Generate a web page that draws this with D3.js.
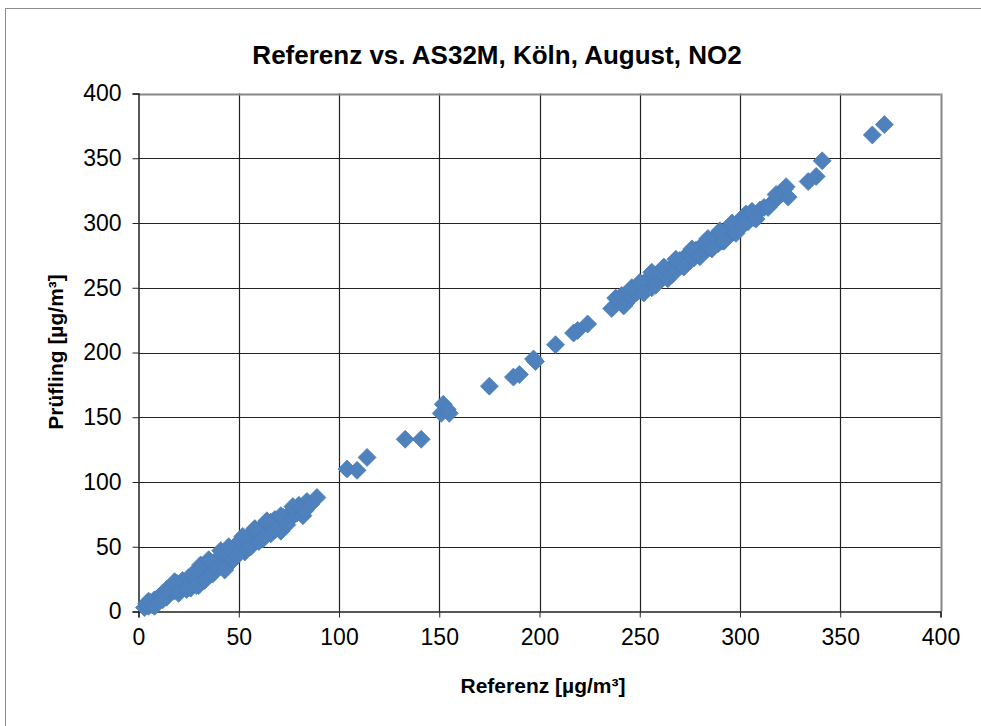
<!DOCTYPE html>
<html>
<head>
<meta charset="utf-8">
<script src="https://cdn.jsdelivr.net/npm/d3@7"></script>
<style>
  body { margin: 0; background: #fff; }
  svg { display: block; font-family: Arial, "Liberation Sans", sans-serif; }
</style>
</head>
<body>
<svg width="981" height="726"></svg>
<script>
// Referenz (x) und Prüfling (y)
var referenz = [
  3, 4, 5, 6, 7, 8, 9, 10, 11, 12, 13, 14, 15, 16, 17, 18, 19, 20, 21, 22, 23, 24, 25, 26, 27, 28, 29, 30, 30, 31,
  32, 33, 34, 35, 36, 37, 38, 39, 40, 41, 42, 43, 44, 45, 46, 47, 48, 49, 50, 51, 52, 53, 54, 55, 56, 57, 58, 59, 60, 61,
  62, 63, 64, 65, 66, 67, 68, 69, 70, 71, 72, 73, 75, 76, 78, 79, 80, 82, 84, 86, 89,
  5, 8, 12, 14, 18, 20, 24, 27, 29, 31, 33, 35, 37, 39, 41, 43, 45, 47, 49, 52, 54, 56, 58, 60, 62, 64, 66, 68, 71, 74,
  77, 81, 83,
  104, 109, 114, 133, 141, 152, 151, 154, 155, 175, 187, 190, 197, 198, 208, 217, 219, 224,
  236, 238, 240, 241, 243, 244, 245, 246, 247, 248, 249, 250, 251, 252, 253, 254, 255, 256, 257, 258, 259, 260, 261, 262, 263, 264,
  265, 266, 267, 268, 269, 270, 271, 272, 273, 274, 275, 276, 277, 278, 279, 280, 281, 282, 283, 284, 285, 286, 287, 288, 289, 290,
  291, 292, 293, 294, 295, 296, 297, 298, 299, 300, 301, 302, 303, 304, 305, 307, 310, 312, 315, 317, 319, 321, 322, 323, 324,
  242, 246, 250, 252, 256, 258, 262, 266, 268, 272, 276, 280, 284, 286, 290, 292, 296, 298, 302, 306, 308, 314, 318,
  334, 338, 341, 366, 372
];
var pruefling = [
  3, 6, 4, 7, 5, 9, 8, 11, 10, 14, 12, 11, 15, 17, 19, 16, 22, 18, 21, 24, 20, 23, 26, 18, 22, 27, 25, 31, 20, 28,
  35, 30, 27, 33, 38, 34, 31, 40, 36, 42, 38, 35, 45, 41, 38, 48, 44, 52, 47, 55, 50, 46, 57, 52, 59, 54, 61, 57, 63, 58,
  65, 60, 67, 62, 69, 64, 71, 66, 68, 62, 73, 70, 75, 72, 79, 76, 82, 74, 85, 83, 88,
  8, 4, 9, 17, 23, 14, 17, 29, 20, 36, 24, 40, 29, 33, 47, 32, 50, 40, 43, 58, 48, 50, 64, 54, 56, 70, 60, 63, 74, 67,
  81, 80, 78,
  110, 109, 119, 133, 133, 160, 153, 156, 153, 174, 181, 183, 195, 193, 206, 215, 217, 222,
  234, 242, 240, 244, 238, 245, 247, 243, 249, 246, 251, 248, 253, 249, 255, 251, 257, 250, 254, 259, 255, 262, 258, 260, 264, 257,
  262, 266, 263, 268, 265, 271, 267, 273, 269, 275, 271, 277, 273, 279, 276, 281, 277, 283, 279, 285, 281, 287, 283, 289, 284, 291,
  286, 293, 288, 295, 291, 297, 293, 299, 295, 302, 298, 305, 307, 301, 306, 304, 310, 312, 314, 317, 320, 323, 326, 328, 320,
  236, 250, 254, 246, 262, 252, 266, 260, 272, 266, 280, 274, 288, 280, 294, 286, 300, 292, 299, 309, 303, 312, 322,
  332, 336, 348, 368, 376
];
var xTicks = [0, 50, 100, 150, 200, 250, 300, 350, 400];
var yTicks = [0, 50, 100, 150, 200, 250, 300, 350, 400];

var svg = d3.select("svg");
var pLeft = 138.5, pRight = 940.5, pTop = 93.5, pBottom = 611.5;

var x = d3.scaleLinear().domain([0, 400]).range([pLeft, pRight]);
var y = d3.scaleLinear().domain([0, 400]).range([pBottom, pTop]);

// Rahmen des Diagramms
svg.append("rect")
  .attr("x", 5.5).attr("y", 8.5).attr("width", 1000).attr("height", 800)
  .attr("fill", "none").attr("stroke", "#8c8c8c");

svg.append("text")
  .attr("x", 497).attr("y", 64)
  .attr("text-anchor", "middle")
  .attr("font-size", 26).attr("font-weight", "bold")
  .text("Referenz vs. AS32M, Köln, August, NO2");

// Gitter
svg.append("g").selectAll("line").data(xTicks.slice(1)).join("line")
  .attr("x1", function(d) { return Math.round(x(d)) + 0.5; })
  .attr("x2", function(d) { return Math.round(x(d)) + 0.5; })
  .attr("y1", pTop).attr("y2", pBottom)
  .attr("stroke", function(d) { return d == 400 ? "#868686" : "#222"; })
  .attr("stroke-width", function(d) { return d == 400 ? 2 : 1.2; });
svg.append("g").selectAll("line").data(yTicks.slice(1)).join("line")
  .attr("x1", pLeft).attr("x2", pRight)
  .attr("y1", function(d) { return Math.round(y(d)) + 0.5; })
  .attr("y2", function(d) { return Math.round(y(d)) + 0.5; })
  .attr("stroke", function(d) { return d == 400 ? "#868686" : "#222"; })
  .attr("stroke-width", function(d) { return d == 400 ? 2 : 1.2; });

// Achsen
var xAxis = svg.append("g")
  .attr("transform", "translate(0," + pBottom + ")")
  .call(d3.axisBottom(x).tickValues(xTicks).tickSize(6).tickPadding(8));
var yAxis = svg.append("g")
  .attr("transform", "translate(" + pLeft + ",0)")
  .call(d3.axisLeft(y).tickValues(yTicks).tickSize(6).tickPadding(8));
[xAxis, yAxis].forEach(function(a) {
  a.select(".domain").attr("stroke", "#222").attr("stroke-width", 1.5);
  a.selectAll(".tick line").attr("stroke", "#222");
  a.selectAll("text").attr("font-size", 23).attr("fill", "#000")
    .attr("font-family", "Arial, 'Liberation Sans', sans-serif");
});
xAxis.selectAll("text").attr("dy", "0.85em");
yAxis.selectAll("text").attr("dx", "-3");

// Punkte
var r = 9;
var diamond = "M0," + (-r) + "L" + r + ",0L0," + r + "L" + (-r) + ",0Z";
svg.append("g").selectAll("path").data(referenz).join("path")
  .attr("d", diamond)
  .attr("transform", function(d, i) { return "translate(" + x(d) + "," + y(pruefling[i]) + ")"; })
  .attr("fill", "#4f81bd").attr("stroke", "#4a7ebb").attr("stroke-width", 0.75);

// Achsentitel
svg.append("text")
  .attr("x", 543).attr("y", 693)
  .attr("text-anchor", "middle")
  .attr("font-size", 21).attr("font-weight", "bold")
  .text("Referenz [µg/m³]");
svg.append("text")
  .attr("transform", "translate(63,352) rotate(-90)")
  .attr("text-anchor", "middle")
  .attr("font-size", 21).attr("font-weight", "bold")
  .text("Prüfling [µg/m³]");
</script>
</body>
</html>
